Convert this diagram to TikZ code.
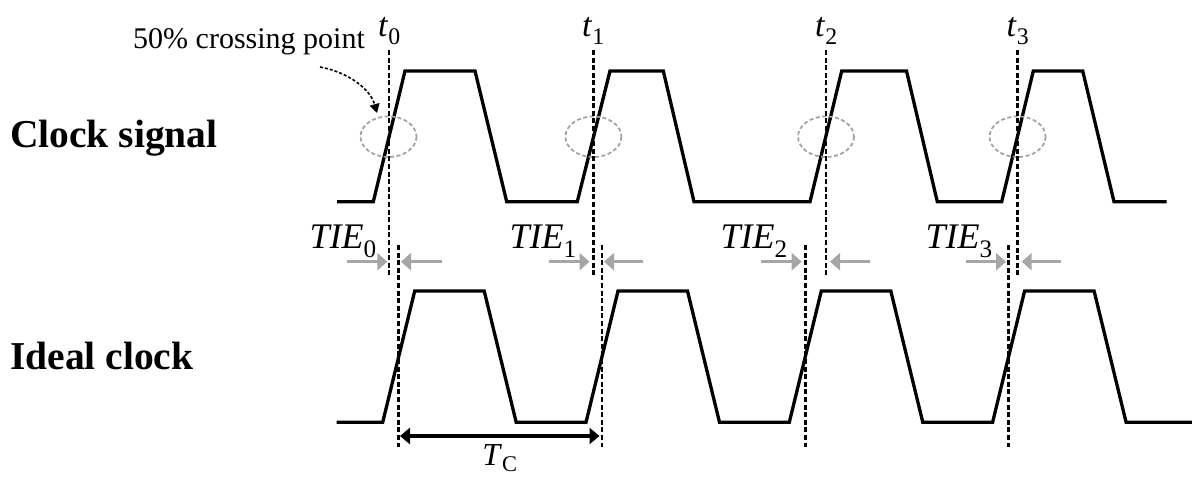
\documentclass[tikz,border=0pt]{standalone}
\usepackage{fontspec}
\setmainfont{Liberation Serif}
\usetikzlibrary{arrows.meta}
\definecolor{arrgray}{HTML}{A6A6A6}
\definecolor{ellgray}{HTML}{A0A0A0}
\begin{document}
\begin{tikzpicture}[x=1pt,y=-1pt,
  sig/.style={line width=3.3pt, line join=miter},
  vdash/.style={line width=2.6pt, dash pattern=on 5pt off 2.6pt},
  ell/.style={draw=ellgray, line width=1.7pt, dash pattern=on 4pt off 2.5pt},
  garrow/.style={color=arrgray, line width=3.6pt, -{Triangle[length=10pt,width=17pt]}},
  biglbl/.style={font=\fontsize{39.5}{44}\selectfont\bfseries, anchor=base west, inner sep=0pt},
  tlbl/.style={font=\fontsize{34}{38}\selectfont, anchor=base, inner sep=0pt},
  tielbl/.style={font=\fontsize{36}{40}\selectfont, anchor=base east, inner sep=0pt},
]
\useasboundingbox (0,0) rectangle (1192,478);

% row labels
\node[biglbl] (cs) at (10,148) {Clock signal};
\node[biglbl] (ic) at (10,370) {Ideal clock};

% annotation
\node[font=\fontsize{30}{34}\selectfont, anchor=base west, inner sep=0pt] (cp) at (133,49) {50\% crossing point};
\coordinate (ca) at (320,67);
\coordinate (cb) at (377,113);
\draw[line width=1.6pt, dash pattern=on 3pt off 2pt, -{Triangle[length=9pt,width=10pt]}] (ca) .. controls (347,72) and (370,88) .. (cb);

% clock signal
\draw[sig] (337,201.7) -- (373.3,201.7) -- (405,71) -- (475,71) -- (506.7,201.7)
  -- (577.3,201.7) -- (610,71) -- (663.3,71) -- (694,201.7)
  -- (810,201.7) -- (841.7,71) -- (906.5,71) -- (937.3,201.7)
  -- (1001.7,201.7) -- (1033.3,71) -- (1082.7,71) -- (1114,201.7) -- (1166.7,201.7);

% ideal clock
\draw[sig] (336.7,422.3)
  \foreach \k in {0,...,3} {
    -- ({382.7+203.3*\k},422.3) -- ({414.7+203.3*\k},291)
    -- ({484.2+203.3*\k},291) -- ({516.2+203.3*\k},422.3) }
  -- (1192,422.3);

% crossing ellipses
\foreach \x in {388.5,593.4,826,1017.6} {
  \draw[ell] (\x,136.7) ellipse [x radius=28, y radius=20.3];
}

% measured crossing instants
\foreach \x in {389,593.7,825.9,1017.4} {
  \draw[vdash] (\x,50) -- (\x,277);
}
% ideal crossing instants
\foreach \x in {398.7,602,805.3,1008.6} {
  \draw[vdash] (\x,245) -- (\x,447);
}

% time labels
\node[tlbl] (t0) at (389.5,37) {\textit{t}\textsubscript{0}};
\node[tlbl] (t1) at (593.5,37) {\textit{t}\textsubscript{1}};
\node[tlbl] (t2) at (826.5,37) {\textit{t}\textsubscript{2}};
\node[tlbl] (t3) at (1018,37) {\textit{t}\textsubscript{3}};

% TIE arrows
\coordinate (a0l) at (346.7,261.7); \coordinate (a0m) at (387.3,261.7);
\coordinate (a0r) at (441.7,261.7); \coordinate (a0n) at (401,261.7);
\coordinate (a1l) at (549,261.7);   \coordinate (a1m) at (589.5,261.7);
\coordinate (a1r) at (643,261.7);   \coordinate (a1n) at (604,261.7);
\coordinate (a2l) at (761,261.7);   \coordinate (a2m) at (801.7,261.7);
\coordinate (a2r) at (870,261.7);   \coordinate (a2n) at (830,261.7);
\coordinate (a3l) at (966,261.7);   \coordinate (a3m) at (1006,261.7);
\coordinate (a3r) at (1060.7,261.7);\coordinate (a3n) at (1021.7,261.7);
\foreach \i in {0,1,2,3} {
  \draw[garrow] (a\i l) -- (a\i m);
  \draw[garrow] (a\i r) -- (a\i n);
}

% TIE labels
\node[tielbl] (tie0) at (377,249) {\textit{TIE}\textsubscript{0}};
\node[tielbl] (tie1) at (577,249) {\textit{TIE}\textsubscript{1}};
\node[tielbl] (tie2) at (788,249) {\textit{TIE}\textsubscript{2}};
\node[tielbl] (tie3) at (993,249) {\textit{TIE}\textsubscript{3}};

% period
\coordinate (tcl) at (400,436);
\coordinate (tcr) at (599.5,436);
\draw[line width=3.4pt, {Triangle[length=10pt,width=16pt]}-{Triangle[length=10pt,width=16pt]}] (tcl) -- (tcr);
\node[font=\fontsize{32}{36}\selectfont, anchor=base, inner sep=0pt] (tc) at (500,465) {\textit{T}\textsubscript{C}};
\end{tikzpicture}
\end{document}
